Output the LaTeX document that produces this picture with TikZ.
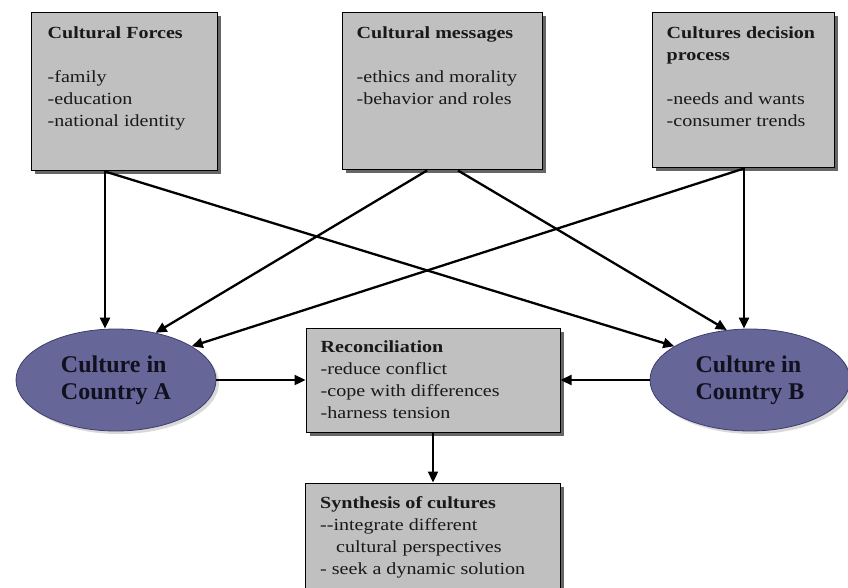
\documentclass[tikz,border=0pt]{standalone}
\usepackage{fontspec}
\setmainfont{Liberation Serif}
\newfontfamily\boxfont{Liberation Serif}[FakeStretch=1.18]
\usetikzlibrary{arrows.meta, positioning, shapes.geometric, shadows}

\definecolor{boxgray}{HTML}{C0C0C0}
\definecolor{cultfill}{HTML}{666699}
\definecolor{cultline}{HTML}{3D3D6B}
\definecolor{cultink}{HTML}{10101E}

\begin{document}
\begin{tikzpicture}[
        x = 1pt, y = -1pt, on grid,
        >= {Triangle[length = 11pt, width = 10pt]},
        box/.style = {draw = black, line width = 1pt, fill = boxgray,
            drop shadow = {shadow xshift = 3.5pt, shadow yshift = -3.5pt, fill = black!60, opacity = 1}},
        boxtext/.style = {anchor = north west, inner sep = 0pt, align = left, text = black!90,
            font = \boxfont\fontsize{17}{22}\selectfont},
        culture/.style = {ellipse, draw = cultline, line width = 0.8pt, fill = cultfill,
            minimum width = 200pt, minimum height = 102pt, align = left, text = cultink,
            font = \bfseries\fontsize{24}{27}\selectfont,
            drop shadow = {shadow xshift = 3pt, shadow yshift = -3pt, opacity = 0.3}},
        link/.style = {->, line width = 2.3pt}
    ]
      \useasboundingbox (0,0) rectangle (848,588);

      % top row
      \node[box, minimum width = 186pt, minimum height = 158pt] (forces) at (124,92) {};
      \node[box, minimum width = 200pt, minimum height = 157pt] (msgs) at (442,91.5) {};
      \node[box, minimum width = 182pt, minimum height = 155pt] (dec) at (743,90.5) {};

      \node[boxtext] (forces-txt) at ([xshift = 17pt, yshift = -14pt]forces.north west)
        {\textbf{Cultural Forces}\\[22pt] -family\\ -education\\ -national identity};
      \node[boxtext] (msgs-txt) at ([xshift = 15pt, yshift = -14pt]msgs.north west)
        {\textbf{Cultural messages}\\[22pt] -ethics and morality\\ -behavior and roles};
      \node[boxtext] (dec-txt) at ([xshift = 15pt, yshift = -14pt]dec.north west)
        {\textbf{Cultures decision}\\ \textbf{process}\\[22pt] -needs and wants\\ -consumer trends};

      % middle row
      \node[culture] (cultA) at (116,380) {Culture in\\Country A};
      \node[box, minimum width = 254pt, minimum height = 104pt] (recon) [right = 317pt of cultA] {};
      \node[culture] (cultB) [right = 317pt of recon] {Culture in\\Country B};
      \node[boxtext] (recon-txt) at ([xshift = 15pt, yshift = -13pt]recon.north west)
        {\textbf{Reconciliation}\\ -reduce conflict\\ -cope with differences\\ -harness tension};

      % bottom
      \node[box, minimum width = 255pt, minimum height = 122pt] (synth) [below = 164pt of recon] {};
      \node[boxtext] (synth-txt) at ([xshift = 15pt, yshift = -14pt]synth.north west)
        {\textbf{Synthesis of cultures}\\ -{}-integrate different\\ \hspace*{16pt}cultural perspectives\\ - seek a dynamic solution};

      \coordinate (forces-out) at ([xshift = -19pt]forces.south);
      \coordinate (msgs-left) at ([xshift = -15pt]msgs.south);
      \coordinate (msgs-right) at ([xshift = 16pt]msgs.south);
      \coordinate (dec-out) at ([xshift = 1pt]dec.south);

      \path[link]
        (forces-out) edge (forces-out |- cultA.north)
        (forces-out) edge (cultB.156)
        (msgs-left)  edge (cultA.50)
        (msgs-right) edge (cultB.115)
        (dec-out)    edge (dec-out |- cultB.north)
        (dec-out)    edge (cultA.24)
        (cultA)      edge (recon)
        (cultB)      edge (recon)
        (recon)      edge (synth);
    \end{tikzpicture}
\end{document}
